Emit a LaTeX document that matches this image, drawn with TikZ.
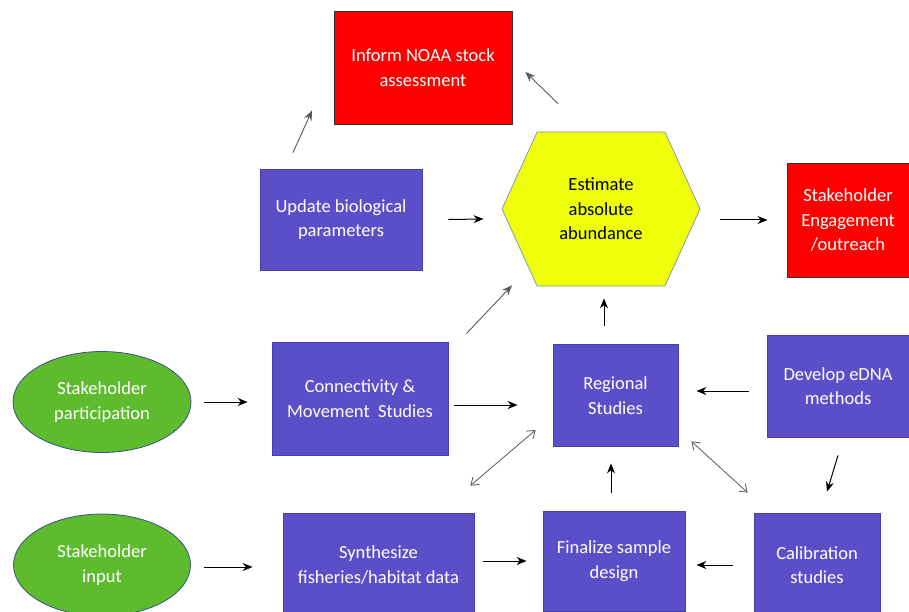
\documentclass[tikz,border=0pt]{standalone}
\usepackage{fontspec}
\setmainfont{Carlito}
\usetikzlibrary{arrows.meta,shapes,shapes.geometric,shapes.symbols}
\definecolor{boxblue}{RGB}{91,79,201}
\definecolor{boxblueline}{RGB}{70,62,170}
\definecolor{boxred}{RGB}{255,0,0}
\definecolor{boxyellow}{RGB}{238,255,8}
\definecolor{boxgreen}{RGB}{94,187,46}
\definecolor{ovalline}{RGB}{60,80,140}
\definecolor{arrowgray}{RGB}{90,90,90}

\begin{document}
\begin{tikzpicture}[x=1pt,y=-1pt,thick,
  txt/.style={align=center,inner sep=0pt,font=\fontsize{18.5}{24.5}\selectfont},
  blue node/.style={txt,rectangle,draw=boxblueline,line width=0.8pt,fill=boxblue,text=white},
  red node/.style={txt,rectangle,draw=black!80,line width=0.9pt,fill=boxred,text=white},
  oval node/.style={txt,ellipse,draw=ovalline,line width=0.8pt,fill=boxgreen,text=white},
  hex node/.style={txt,signal,signal to=east and west,signal pointer angle=131,
    draw=ovalline!60,line width=0.8pt,fill=boxyellow,text=black},
  arr/.style={-{Stealth[length=10pt,width=8pt]},line width=1pt,black},
  grayarr/.style={-{Stealth[length=10pt,width=8pt]},line width=0.9pt,arrowgray},
  twoway/.style={{Straight Barb[length=7pt,width=10pt]}-{Straight Barb[length=7pt,width=10pt]},line width=0.8pt,arrowgray}]

  \clip (0,0) rectangle (909,612);
  \fill[white] (0,0) rectangle (909,612);

  % top row
  \node[red node,minimum width=178pt,minimum height=113pt] (noaa) at (423,67.5) {Inform NOAA stock\\assessment};
  \node[hex node,minimum width=198pt,minimum height=154pt] (hex) at (601,209) {Estimate\\absolute\\abundance};
  \node[blue node,minimum width=162pt,minimum height=101pt] (upd) at (341,219.5) {Update biological\\parameters};
  \node[red node,minimum width=122pt,minimum height=114pt] (eng) at (848,220) {Stakeholder\\Engagement\\/outreach};

  % middle row
  \node[oval node,minimum width=178pt,minimum height=101pt] (part) at (102,402) {Stakeholder\\participation};
  \node[blue node,minimum width=176pt,minimum height=113pt] (conn) at (360,398.5) {Connectivity \&\\Movement~ Studies};
  \node[blue node,minimum width=125pt,minimum height=102pt] (reg) at (615.5,395.5) {Regional\\Studies};
  \node[blue node,minimum width=142pt,minimum height=102pt] (edna) at (838,386) {Develop eDNA\\methods};

  % bottom row
  \node[oval node,minimum width=177pt,minimum height=102pt] (inp) at (102,565) {Stakeholder\\input};
  \node[blue node,minimum width=191pt,minimum height=104pt] (syn) at (378.5,565) {Synthesize\\fisheries/habitat data};
  \node[blue node,minimum width=142pt,minimum height=100pt] (fin) at (614,561) {Finalize sample\\design};
  \node[blue node,minimum width=126pt,minimum height=104pt] (cal) at (817,565) {Calibration\\studies};

  % connectors
  \draw[grayarr] ([xshift=-48pt,yshift=16pt]upd.north) -- ([xshift=-111pt,yshift=14pt]noaa.south);
  \draw[grayarr] ([xshift=-43pt,yshift=28pt]hex.north) -- ([xshift=13pt,yshift=-4.5pt]noaa.east);
  \draw[arr] ([xshift=26pt]upd.east) -- ([xshift=-18pt,yshift=-10pt]hex.west);
  \draw[arr] ([xshift=20pt,yshift=-11pt]hex.east) -- ([xshift=-19pt]eng.west);
  \draw[arr] ([xshift=13pt]part.east) -- ([xshift=-24pt,yshift=-3.5pt]conn.west);
  \draw[arr] ([xshift=6pt,yshift=-6.5pt]conn.east) -- ([xshift=-35pt,yshift=-9.5pt]reg.west);
  \draw[grayarr] ([xshift=18pt,yshift=8pt]conn.north east) -- ([xshift=-89pt,yshift=1pt]hex.south);
  \draw[arr] ([xshift=-11.5pt,yshift=18pt]reg.north) -- ([xshift=3pt,yshift=-12pt]hex.south);
  \draw[arr] ([xshift=-18pt,yshift=-5pt]edna.west) -- ([xshift=18pt,yshift=4.5pt]reg.east);
  \draw[arr] ([yshift=-18pt]edna.south) -- ([xshift=10pt,yshift=21pt]cal.north);
  \draw[twoway] ([xshift=-17pt,yshift=-34.5pt]reg.west) -- ([xshift=-4pt,yshift=27pt]syn.north east);
  \draw[twoway] ([xshift=13pt,yshift=5.5pt]reg.south east) -- ([xshift=-6pt,yshift=20pt]cal.north west);
  \draw[arr] ([xshift=-3pt,yshift=18pt]fin.north) -- ([xshift=-4.5pt,yshift=-16.5pt]reg.south);
  \draw[arr] ([xshift=13.5pt,yshift=-2pt]inp.east) -- ([xshift=-30pt,yshift=-2pt]syn.west);
  \draw[arr] ([xshift=9pt,yshift=4pt]syn.east) -- ([xshift=-16pt]fin.west);
  \draw[arr] ([xshift=-21pt]cal.west) -- ([xshift=11pt,yshift=-4pt]fin.east);
\end{tikzpicture}
\end{document}
